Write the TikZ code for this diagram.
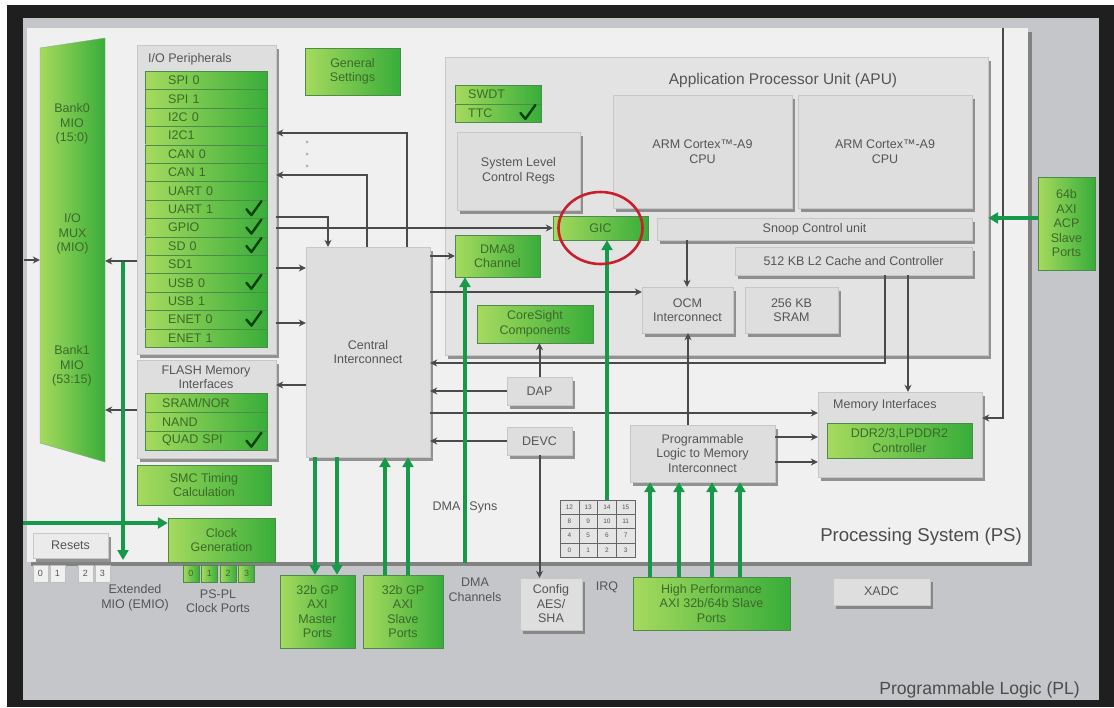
\documentclass[tikz,border=0pt]{standalone}
\usepackage{fontspec}
\setmainfont{Liberation Sans}
\usetikzlibrary{positioning,shadows,arrows.meta}

\definecolor{plgray}{HTML}{C5C6CA}
\definecolor{psbg}{HTML}{F0F0F0}
\definecolor{boxgray}{HTML}{DEDEDE}
\definecolor{apugray}{HTML}{E3E3E3}
\definecolor{txtgray}{HTML}{555555}
\definecolor{lgreen}{HTML}{A6DA5E}
\definecolor{dgreen}{HTML}{38AD3A}
\definecolor{gtext}{HTML}{3A6A2A}
\definecolor{linegray}{HTML}{4A4A4A}
\definecolor{axigreen}{HTML}{17994A}
\definecolor{ringred}{HTML}{C8202A}

\begin{document}
\begin{tikzpicture}[x=1pt, y=-1pt,
  every node/.style={font=\fontsize{12.5}{14.5}\selectfont, text=txtgray, align=center, inner sep=0pt},
  area/.style args={#1,#2,#3,#4}{at={({(#1+#3)/2},{(#2+#4)/2})}, minimum width={(#3-#1)*1pt}, minimum height={(#4-#2)*1pt}},
  graybox/.style={fill=boxgray, draw=black!22, drop shadow={shadow xshift=3pt, shadow yshift=-3.5pt, fill=black!55, opacity=0.75}},
  greenbox/.style={left color=lgreen, right color=dgreen, draw=green!35!black!70, text=gtext},
  row/.style={greenbox, anchor=north west, minimum height=18.4pt, text width=76pt, inner xsep=23pt, align=left},
  cell/.style={draw=black!60, fill=white!90!black, minimum width=18.75pt, minimum height=14.25pt, font=\fontsize{6.5}{7}\selectfont},
  garrow/.style={draw=linegray, line width=2pt, -{Stealth[length=7pt,width=7pt]}},
  axi/.style={draw=axigreen, line width=3.4pt, -{Triangle[length=10pt,width=11pt]}},
  chk/.style={draw=black!75!green, line width=2.4pt, line cap=round, line join=round},
  small/.style={font=\fontsize{9}{10}\selectfont}
]
\useasboundingbox (0,0) rectangle (1114,707);
\fill[white] (0,0) rectangle (1114,707);
\fill[black!88] (7,5) rectangle (1114,707);
\fill[plgray] (23,18) rectangle (1099,700);
\node[area={27,28,1028,562}, fill=psbg, drop shadow={shadow xshift=4pt, shadow yshift=-4pt, fill=black!60, opacity=0.7}] (ps) {};

% MIO
\shade[left color=lgreen, right color=dgreen, draw=green!35!black!50] (40,48) -- (105,38) -- (105,462) -- (40,443) -- cycle;
\node[area={40,38,105,430}, text=gtext] (mio) {I/O\\MUX\\(MIO)};
\node[text=gtext] (bank0) at (72,124) {Bank0\\MIO\\(15:0)};
\node[text=gtext] (bank1) at (72,366) {Bank1\\MIO\\(53:15)};

% I/O peripherals
\node[graybox, area={137,45,276,354}] (iop) {};
\node[anchor=west] (iopl) at (148,59) {I/O Peripherals};
\foreach \t [count=\i from 0] in {SPI 0,SPI 1,I2C 0,I2C1,CAN 0,CAN 1,UART 0,UART 1,GPIO,SD 0,SD1,USB 0,USB 1,ENET 0,ENET 1}
  \node[row] (io\i) at (145,{71+18.4*\i}) {\t};
\foreach \i in {7,8,9,11,13}
  \draw[chk] (io\i.east) ++(-21,0) -- ++(5,6) -- ++(10,-14);

% flash
\node[graybox, area={137,360,276,458}] (flash) {};
\node (flashl) at (206,377) {FLASH Memory\\Interfaces};
\foreach \t [count=\i from 0] in {SRAM/NOR,NAND,QUAD SPI}
  \node[row, minimum height=19pt, text width=88pt, inner xsep=17pt] (fl\i) at (145,{393+19*\i}) {\t};
\draw[chk] (fl2.east) ++(-21,0) -- ++(5,6) -- ++(10,-14);

\node[greenbox, area={137,465,271,505}] (smc) {SMC Timing\\Calculation};
\node[greenbox, area={168,518,275,562}] (clk) {Clock\\Generation};
\foreach \n [count=\i from 0] in {0,1,2,3}
  \node[greenbox, small, minimum width=16pt, minimum height=17pt] (ck\n) at ({191+18.5*\i},573.5) {\n};
\node (ckl) at (218,601) {PS-PL\\Clock Ports};
\node[graybox, fill=white!92!black, area={33,533,108,558}] (rst) {Resets};
\foreach \n/\x in {0/40.5,1/57.5,2/85.5,3/102.5}
  \node[fill=white!94!black, draw=black!25, small, minimum width=15pt, minimum height=17pt] (em\n) at (\x,573.5) {\n};
\node (emil) at (135,598) {Extended\\MIO (EMIO)};

\node[greenbox, area={305,48,400,95}] (gen) {General\\Settings};
\foreach \y in {142,154,166} \fill[black!30] (307,\y) circle (1.5pt);

\node[graybox, area={306,247,430,457}] (ci) {Central\\Interconnect};

% APU
\node[graybox, fill=apugray, area={445,57,988,355}] (apu) {};
\node[font=\fontsize{15.5}{17}\selectfont] (apul) at (783,80) {Application Processor Unit (APU)};
\node[row, text width=60pt, inner xsep=13pt, minimum height=18.5pt] (swdt) at (455,85) {SWDT};
\node[row, text width=60pt, inner xsep=13pt, minimum height=18.5pt] (ttc) at (455,103.5) {TTC};
\draw[chk] (ttc.east) ++(-21,0) -- ++(5,6) -- ++(10,-14);
\node[graybox, area={457,132,580,210}] (slcr) {System Level\\Control Regs};
\node[greenbox, area={553,216,648,240}] (gic) {GIC};
\node[greenbox, area={455,235,540,277}] (dma) {DMA8\\Channel};
\node[graybox, area={613,95,792,208}] (cpu0) {ARM Cortex™-A9\\CPU};
\node[graybox, area={798,95,972,208}] (cpu1) {ARM Cortex™-A9\\CPU};
\node[graybox, area={657,218,972,240}] (scu) {Snoop Control unit};
\node[graybox, area={735,247,972,275}] (l2) {512 KB L2 Cache and Controller};
\node[graybox, area={642,287,733,333}] (ocm) {OCM\\Interconnect};
\node[graybox, area={745,287,838,333}] (sram) {256 KB\\SRAM};
\node[greenbox, area={477,305,593,343}] (cs) {CoreSight\\Components};

\node[graybox, area={507,377,572,405}] (dap) {DAP};
\node[graybox, area={507,427,572,455}] (devc) {DEVC};
\node[graybox, area={520,578,582,630}] (cfg) {Config\\AES/\\SHA};
\node[graybox, area={630,425,775,482}] (plmi) {Programmable\\Logic to Memory\\Interconnect};
\node[graybox, area={818,392,982,477}] (mem) {};
\node[anchor=west] (meml) at (833,405) {Memory Interfaces};
\node[greenbox, area={827,423,972,458}] (ddr) {DDR2/3,LPDDR2\\Controller};

% IRQ grid
\foreach \r in {0,...,3}
  \foreach \c in {0,...,3} {
    \pgfmathtruncatemacro\n{(3-\r)*4+\c}
    \node[cell] (q\r\c) at ({569.4+18.75*\c},{507.1+14.25*\r}) {\n};
  }
\node[area={560,500,635,557}] (irq) {};
\node (irql) at (607,587) {IRQ};

\node[greenbox, area={1038,177,1095,270}] (acp) {64b\\AXI\\ACP\\Slave\\Ports};
\node[graybox, area={833,578,930,605}] (xadc) {XADC};
\node[greenbox, area={280,575,355,648}] (gpm) {32b GP\\AXI\\Master\\Ports};
\node[greenbox, area={363,575,443,648}] (gps) {32b GP\\AXI\\Slave\\Ports};
\node[greenbox, area={633,577,790,630}] (hp) {High Performance\\AXI 32b/64b Slave\\Ports};

\node (dmasyn) at (465,507) {DMA\hspace{9pt}Syns};
\node (dmachl) at (475,590) {DMA\\Channels};
\node[anchor=east, font=\fontsize{18.6}{20}\selectfont, text=black!70] (psl) at (1022,537) {Processing System (PS)};
\node[anchor=east, font=\fontsize{17.6}{20}\selectfont, text=black!70] (pll) at (1080,690) {Programmable Logic (PL)};

% gray connectors
\coordinate (mioin) at (24,260);
\draw[garrow] (mioin) -- (mio.west |- mioin);
\draw[garrow] (iop.west |- 0,261) -- (mio.east |- 0,261);
\draw[garrow] (flash.west |- 0,410) -- (mio.east |- 0,410);
\draw[garrow] (ci.north -| 407,0) |- (iop.east |- 0,133);
\draw[garrow] (ci.north -| 367,0) |- (iop.east |- 0,175);
\draw[garrow] (iop.east |- 0,217) -| (ci.north -| 328,0);
\draw[garrow] (iop.east |- gic.west) -- (gic.west);
\draw[garrow] (iop.east |- 0,268) -- (ci.west |- 0,268);
\draw[garrow] (iop.east |- 0,323) -- (ci.west |- 0,323);
\draw[garrow] (ci.west |- 0,385) -- (flash.east |- 0,385);
\draw[garrow] (ci.east |- dma.west) -- (dma.west);
\draw[garrow] (ci.east |- 0,292) -- (ocm.west |- 0,292);
\draw[garrow] (l2.south -| 885,0) |- (ci.east |- 0,363);
\draw[garrow] (l2.south -| 908,0) -- (mem.north -| 908,0);
\draw[garrow] (dap) -- (ci.east |- dap);
\draw[garrow] (ci.east |- 0,413) -- (mem.west |- 0,413);
\draw[garrow] (devc) -- (ci.east |- devc);
\draw[garrow] (devc.south) -- (cfg.north -| devc.south);
\draw[garrow] (dap.north) -- (cs.south -| dap.north);
\draw[garrow] (scu.south -| 687,0) -- (ocm.north -| 687,0);
\draw[garrow] (plmi.north -| 688,0) -- (ocm.south -| 688,0);
\draw[garrow] (plmi.east |- 0,437) -- (mem.west |- 0,437);
\draw[garrow] (plmi.east |- 0,462) -- (mem.west |- 0,462);
\coordinate (pstop) at (1003,28);
\draw[garrow] (pstop) |- (mem.east |- 0,418);

% AXI / green connectors
\coordinate (emiotop) at (123,262);
\coordinate (emio) at (123,560);
\draw[axi] (emiotop) -- (emio);
\coordinate (clkin) at (23,523);
\draw[axi] (clkin) -- (clk.west |- clkin);
\foreach \x in {315,337} \draw[axi] (ci.south -| \x,0) -- (gpm.north -| \x,0);
\foreach \x in {385,408} \draw[axi] (gps.north -| \x,0) -- (ci.south -| \x,0);
\coordinate (dmach) at (465,563);
\draw[axi] (dmach) -- (dma.south -| dmach);
\draw[axi] (irq.north -| 607,0) -- (gic.south -| 607,0);
\foreach \x in {650,679,712,740} \draw[axi] (hp.north -| \x,0) -- (plmi.south -| \x,0);
\draw[axi] (acp.west |- 0,218) -- (apu.east |- 0,218);

\draw[ringred, line width=2.6pt] (gic.center) ellipse [x radius=42pt, y radius=36pt];
\end{tikzpicture}
\end{document}
